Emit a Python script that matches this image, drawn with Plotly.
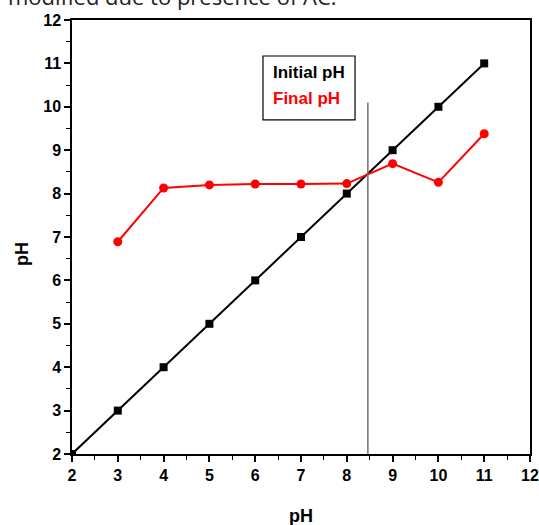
import plotly.graph_objects as go

initial_x = [2, 3, 4, 5, 6, 7, 8, 9, 10, 11]
initial_y = [2, 3, 4, 5, 6, 7, 8, 9, 10, 11]
final_x = [3, 4, 5, 6, 7, 8, 9, 10, 11]
final_y = [6.89, 8.13, 8.2, 8.22, 8.22, 8.23, 8.69, 8.26, 9.38]
vline_x = 8.46
vline_top = 10.1

fig = go.Figure()
fig.add_trace(go.Scatter(x=initial_x, y=initial_y, mode="lines+markers",
                         line=dict(color="black", width=2),
                         marker=dict(symbol="square", size=8, color="black"),
                         name="Initial pH"))
fig.add_trace(go.Scatter(x=final_x, y=final_y, mode="lines+markers",
                         line=dict(color="#ff0000", width=2),
                         marker=dict(symbol="circle", size=9, color="#ff0000"),
                         name="Final pH"))

fig.add_shape(type="line", x0=vline_x, x1=vline_x, y0=2, y1=vline_top,
              line=dict(color="#707070", width=1.5), xref="x", yref="y")
fig.add_shape(type="rect", x0=6.17, x1=8.18, y0=9.7, y1=11.17,
              line=dict(color="black", width=1.2), fillcolor="white", xref="x", yref="y")
fig.add_annotation(x=7.17, y=10.8, text="<b>Initial pH</b>", showarrow=False,
                   font=dict(family="Liberation Sans Narrow, Arial Narrow, Liberation Sans, Arial", size=17, color="black"))
fig.add_annotation(x=7.12, y=10.2, text="<b>Final pH</b>", showarrow=False,
                   font=dict(family="Liberation Sans Narrow, Arial Narrow, Liberation Sans, Arial", size=17, color="#ff0000"))

fig.add_annotation(xref="paper", yref="paper", x=-0.145, y=1.0, yshift=7,
                   xanchor="left", yanchor="bottom", showarrow=False,
                   text="modified due to presence of AC.",
                   font=dict(family="Open Sans, Noto Sans, Arial", size=22, color="#222222"))

title_font = dict(family="Liberation Sans, Arial", size=18, color="black")
fig.add_annotation(xref="paper", yref="paper", x=0.5, y=0, yshift=-62,
                   xanchor="center", yanchor="middle", showarrow=False,
                   text="<b>pH</b>", font=title_font)
fig.add_annotation(xref="paper", yref="paper", x=0, xshift=-50, y=0.5, yshift=-17,
                   xanchor="center", yanchor="middle", showarrow=False, textangle=-90,
                   text="<b>pH</b>", font=title_font)

axis_common = dict(range=[2, 12], dtick=1, ticks="outside", ticklen=6, tickwidth=1.5,
                   tickcolor="black", showline=True, linecolor="black", linewidth=1.5,
                   mirror=True, showgrid=False, zeroline=False, automargin=False,
                   tickfont=dict(family="Liberation Sans, Arial", size=16, color="black"),
                   tickprefix="<b>", ticksuffix="</b>",
                   minor=dict(dtick=0.5, ticks="outside", ticklen=4, tickwidth=1.2, tickcolor="black"))

fig.update_layout(
    width=539, height=525,
    margin=dict(l=72, r=9, t=20, b=71),
    plot_bgcolor="white", paper_bgcolor="white",
    showlegend=False,
    xaxis=axis_common,
    yaxis=axis_common,
)

fig.write_html("out.html", config={"displayModeBar": False},
               post_script="document.body.style.margin='0';document.body.style.overflow='hidden';")
